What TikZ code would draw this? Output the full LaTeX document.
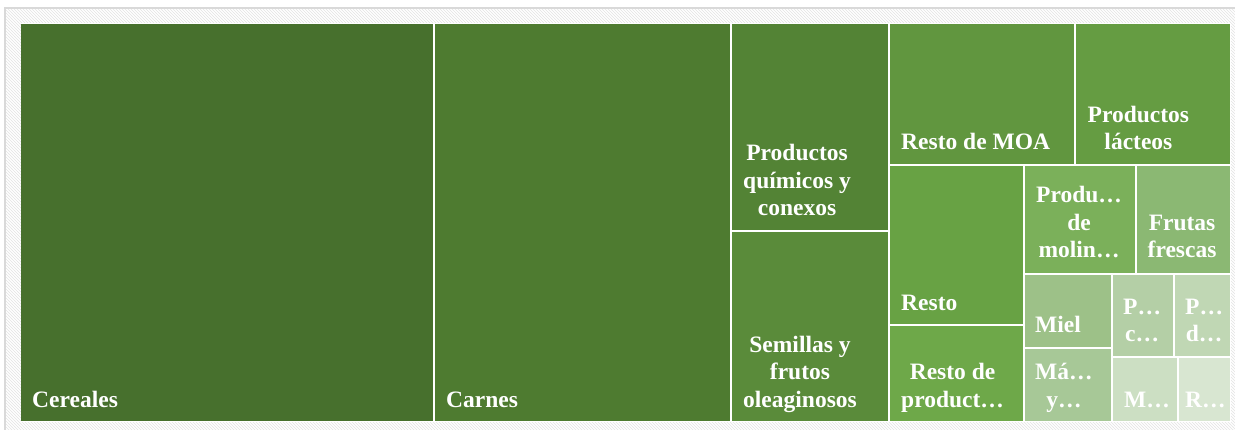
\documentclass[tikz,border=0pt]{standalone}
\usepackage{fontspec}
\setmainfont{Liberation Serif}
\usetikzlibrary{patterns}
\definecolor{cCer}{HTML}{47702D}
\definecolor{cCar}{HTML}{4E7B30}
\definecolor{cQui}{HTML}{538335}
\definecolor{cSem}{HTML}{5A8B3A}
\definecolor{cMoa}{HTML}{61963F}
\definecolor{cLac}{HTML}{659C42}
\definecolor{cRes}{HTML}{68A244}
\definecolor{cRpr}{HTML}{6EA849}
\definecolor{cPro}{HTML}{7BB05A}
\definecolor{cFru}{HTML}{8BB873}
\definecolor{cMie}{HTML}{9DC188}
\definecolor{cMaq}{HTML}{A7C897}
\definecolor{cPc}{HTML}{B4CFA6}
\definecolor{cPd}{HTML}{C0D7B4}
\definecolor{cM}{HTML}{CCDFC3}
\definecolor{cR}{HTML}{D8E6D1}
\definecolor{frameGray}{HTML}{D9D9D9}
\newcommand\lines[1]{\begin{tabular}[b]{@{}c@{}}#1\end{tabular}}
\tikzset{
  lbl/.style={text=white, font=\bfseries\fontsize{23.5}{27.5}\selectfont, inner sep=0pt, anchor=base west},
}
\begin{document}
\begin{tikzpicture}[x=1pt,y=-1pt]
\useasboundingbox (0,0) rectangle (1235,430);
\clip (0,0) rectangle (1235,430);
\fill[white] (0,0) rectangle (1235,430);
\fill[pattern=north west lines, pattern color=black!11] (5,8) rectangle (1245,445);
\draw[frameGray, line width=1.2pt] (5,445) -- (5,8) -- (1245,8);
\fill[white] (20.5,23.5) rectangle (1230.5,421.5);
% cells
\fill[cCer] (21,24) rectangle (433,421);
\fill[cCar] (435,24) rectangle (730,421);
\fill[cQui] (732,24) rectangle (888,230);
\fill[cSem] (732,232) rectangle (888,421);
\fill[cMoa] (890,24) rectangle (1074,164);
\fill[cLac] (1076,24) rectangle (1230,164);
\fill[cRes] (890,166) rectangle (1023,324);
\fill[cRpr] (890,326) rectangle (1023,421);
\fill[cPro] (1025,166) rectangle (1134.5,273);
\fill[cFru] (1136.5,166) rectangle (1230,273);
\fill[cMie] (1025,275) rectangle (1110.5,347);
\fill[cMaq] (1025,349) rectangle (1110.5,421);
\fill[cPc] (1112.5,275) rectangle (1173,356);
\fill[cPd] (1175,275) rectangle (1230,356);
\fill[cM] (1112.5,358) rectangle (1176.5,421);
\fill[cR] (1178.5,358) rectangle (1230,421);
% labels
\node[lbl] (lCer) at (32,407) {Cereales};
\node[lbl] (lCar) at (446,407) {Carnes};
\node[lbl] (lQui) at (743,216) {\lines{Productos\\químicos y\\conexos}};
\node[lbl] (lSem) at (743,407) {\lines{Semillas y\\frutos\\oleaginosos}};
\node[lbl] (lMoa) at (901,150) {Resto de MOA};
\node[lbl] (lLac) at (1087.5,150) {\lines{Productos\\lácteos}};
\node[lbl] (lRes) at (901,311) {Resto};
\node[lbl] (lRpr) at (901,407) {\lines{Resto de\\product…}};
\node[lbl] (lPro) at (1036,258) {\lines{Produ…\\de\\molin…}};
\node[lbl] (lFru) at (1147.5,258) {\lines{Frutas\\frescas}};
\node[lbl] (lMie) at (1035,333) {Miel};
\node[lbl] (lMaq) at (1035,407) {\lines{Má…\\y…}};
\node[lbl] (lPc) at (1123,342) {\lines{P…\\c…}};
\node[lbl] (lPd) at (1185,342) {\lines{P…\\d…}};
\node[lbl] (lM) at (1124,407) {M…};
\node[lbl] (lR) at (1185,407) {R…};
\end{tikzpicture}
\end{document}
